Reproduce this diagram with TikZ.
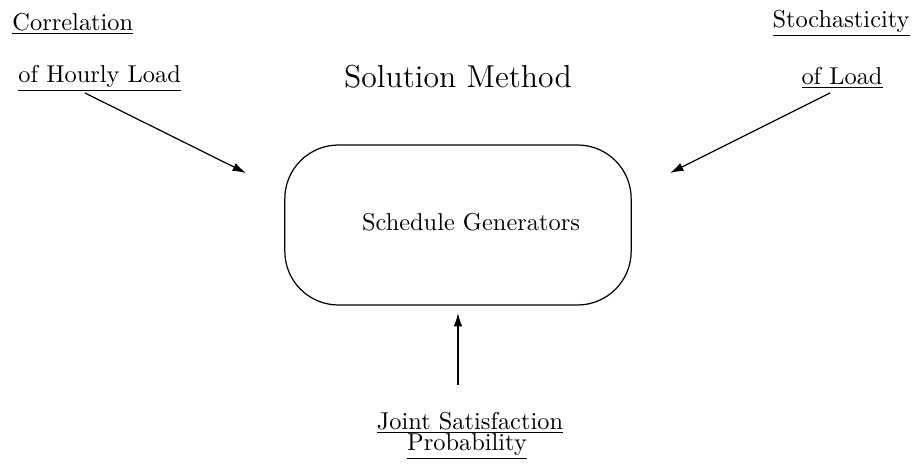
\documentclass[tikz,border=0pt]{standalone}
\usetikzlibrary{arrows.meta}
\begin{document}
\begin{tikzpicture}[x=0.41pt,y=-0.41pt,
  lbl/.style={inner sep=0pt,anchor=base},
  genbox/.style={draw,rounded corners=22pt,minimum width=142pt,minimum height=65.6pt,inner sep=0pt,line width=0.5pt},
  feed/.style={-{Latex[length=5.5pt,width=3.5pt]},line width=0.5pt}]
\useasboundingbox (0,0) rectangle (917,465);
\node[lbl,anchor=base west] (corr) at (12,30) {\underline{Correlation}};
\node[lbl,anchor=base west] (hour) at (18,82) {\underline{of Hourly Load}};
\node[lbl,anchor=base east] (stoc) at (910,27) {\underline{Stochasticity}};
\node[lbl,anchor=base east] (ofl) at (883,84) {\underline{of Load}};
\node[lbl] (title) at (458,87) {\fontsize{13}{15}\selectfont Solution Method};
\node[genbox] (box) at (458,225) {};
\node[lbl] (sg) at (471,230) {Schedule Generators};
\node[lbl] (joint) at (470,429) {\underline{Joint Satisfaction}};
\node[lbl] (prob) at (467,450) {\underline{Probability}};
\coordinate (a1s) at (85,93);
\coordinate (a1e) at (246,173);
\coordinate (a2s) at (830,93);
\coordinate (a2e) at (670,173);
\coordinate (a3s) at (458,385);
\coordinate (a3e) at (458,313);
\draw[feed] (a1s) -- (a1e);
\draw[feed] (a2s) -- (a2e);
\draw[feed] (a3s) -- (a3e);
\end{tikzpicture}
\end{document}
